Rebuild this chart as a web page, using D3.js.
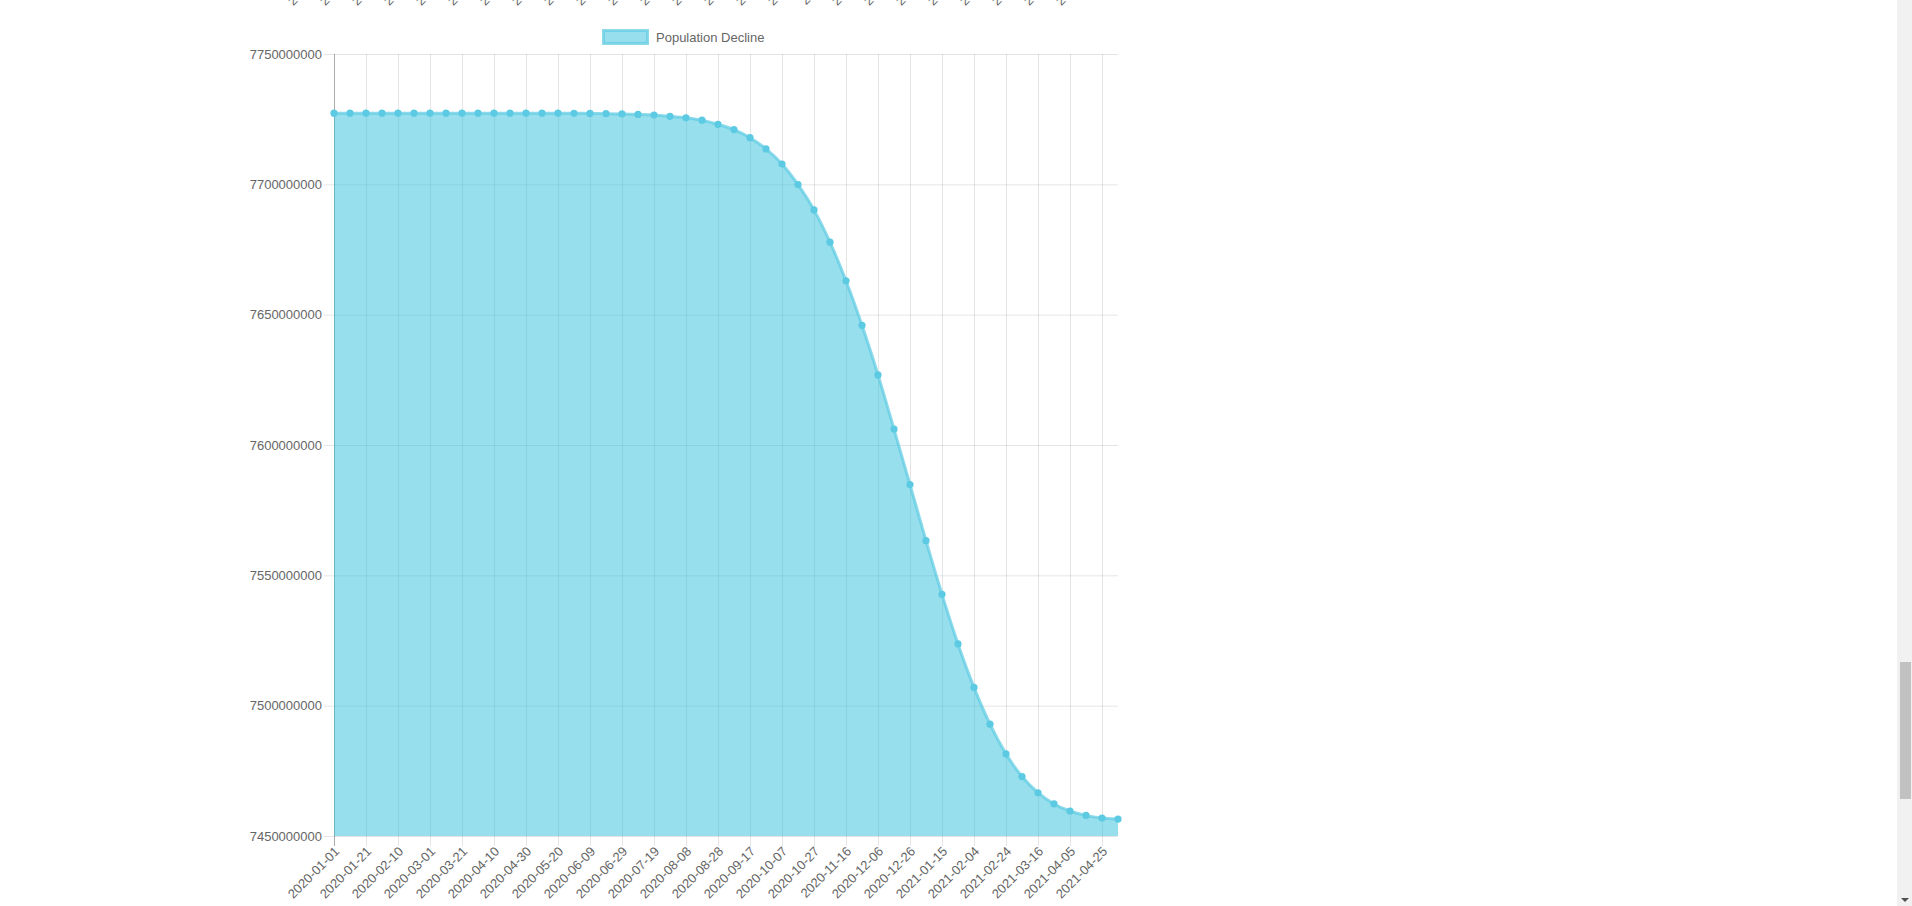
<!DOCTYPE html>
<html>
<head>
<meta charset="utf-8">
<script src="https://cdn.jsdelivr.net/npm/d3@7"></script>
<style>
  html, body { margin: 0; padding: 0; background: #fff; overflow: hidden; }
  #PopPlot { position: absolute; left: 0; top: 0; width: 1897px; height: 906px; }
  #track { position: absolute; left: 1897px; top: 0; width: 15px; height: 906px; background: #f1f1f1; }
  #thumb { position: absolute; left: 1900px; top: 662px; width: 11px; height: 137px; background: #c1c1c1; }
  #arrow { position: absolute; left: 1901px; top: 898px; width: 0; height: 0;
           border-left: 4px solid transparent; border-right: 4px solid transparent; border-top: 4px solid #505050; }
  text { font-family: "Liberation Sans", Arial, Helvetica, sans-serif; }
</style>
</head>
<body>
<div id="PopPlot"></div>
<div id="track"></div><div id="thumb"></div><div id="arrow"></div>
<script>
// categories: one point every 10 days
var dates = [
  "2020-01-01","2020-01-11","2020-01-21","2020-01-31","2020-02-10","2020-02-20","2020-03-01","2020-03-11",
  "2020-03-21","2020-03-31","2020-04-10","2020-04-20","2020-04-30","2020-05-10","2020-05-20","2020-05-30",
  "2020-06-09","2020-06-19","2020-06-29","2020-07-09","2020-07-19","2020-07-29","2020-08-08","2020-08-18",
  "2020-08-28","2020-09-07","2020-09-17","2020-09-27","2020-10-07","2020-10-17","2020-10-27","2020-11-06",
  "2020-11-16","2020-11-26","2020-12-06","2020-12-16","2020-12-26","2021-01-05","2021-01-15","2021-01-25",
  "2021-02-04","2021-02-14","2021-02-24","2021-03-06","2021-03-16","2021-03-26","2021-04-05","2021-04-15",
  "2021-04-25","2021-05-05"
];

var population = [
  7727300000, 7727300000, 7727300000, 7727300000, 7727300000, 7727300000, 7727300000, 7727300000,
  7727300000, 7727300000, 7727300000, 7727300000, 7727300000, 7727300000, 7727300000, 7727250000,
  7727200000, 7727100000, 7727000000, 7726800000, 7726600000, 7726100000, 7725500000, 7724600000,
  7723000000, 7721000000, 7717900000, 7713600000, 7707800000, 7699900000, 7690200000, 7677800000,
  7663000000, 7645900000, 7626900000, 7606100000, 7584800000, 7563300000, 7542700000, 7523700000,
  7507000000, 7492900000, 7481500000, 7472800000, 7466600000, 7462300000, 7459600000, 7457900000,
  7456900000, 7456500000
];

var yTicks = [7450000000, 7500000000, 7550000000, 7600000000, 7650000000, 7700000000, 7750000000];

var seriesName = "Population Decline";

PopPlot();

function PopPlot() {

var margin = {top: 54, left: 334},
    width = 784,
    height = 782;

var lineColor = "rgb(92,202,226)",
    fillColor = "rgba(47,191,217,0.5)",
    gridColor = "rgba(0,0,0,0.1)",
    textColor = "#666";

var svg = d3.select("#PopPlot").append("svg").attr("width", 1897).attr("height", 906);

var x = d3.scalePoint().domain(dates).range([0, width]),
    y = d3.scaleLinear().domain([yTicks[0], yTicks[yTicks.length - 1]]).range([height, 0]);

// only every second date gets a label / gridline
var shown = dates.filter(function(d, i) { return i % 2 === 0; });

var focus = svg.append("g")
    .attr("transform", "translate(" + margin.left + "," + margin.top + ")");

// horizontal grid + y labels
var yAxis = focus.append("g")
    .attr("transform", "translate(-10,0)")
    .call(d3.axisLeft(y).tickValues(yTicks).tickFormat(d3.format("d"))
      .tickSizeInner(-(width + 10)).tickSizeOuter(0).tickPadding(2));
yAxis.select(".domain").remove();
yAxis.selectAll("line").attr("stroke", gridColor);
yAxis.selectAll("text").attr("fill", textColor).style("font-size", "13px")
    .style("font-family", "'Liberation Sans', Arial, sans-serif");

// vertical grid
var xAxis = focus.append("g")
    .attr("transform", "translate(0," + (height + 10) + ")")
    .call(d3.axisBottom(x).tickValues(shown).tickSizeInner(height + 10).tickSizeOuter(0).tickFormat(""));
xAxis.select(".domain").remove();
xAxis.selectAll("line").attr("y2", -(height + 10)).attr("stroke", gridColor);

// left border
focus.append("line")
    .attr("x1", 0.5).attr("x2", 0.5).attr("y1", 0).attr("y2", height + 10)
    .attr("stroke", "rgba(0,0,0,0.25)");

var area = d3.area()
    .curve(d3.curveMonotoneX)
    .x(function(d, i) { return x(dates[i]); })
    .y0(height)
    .y1(function(d) { return y(d); });

var curve = d3.line()
    .curve(d3.curveMonotoneX)
    .x(function(d, i) { return x(dates[i]); })
    .y(function(d) { return y(d); });

focus.append("path")
    .datum(population)
    .attr("fill", fillColor)
    .attr("d", area);

focus.append("path")
    .datum(population)
    .attr("fill", "none")
    .attr("stroke", lineColor)
    .attr("stroke-width", 3)
    .attr("opacity", 0.7)
    .attr("d", curve);

focus.selectAll(".pt")
    .data(population)
  .enter().append("circle")
    .attr("class", "pt")
    .attr("cx", function(d, i) { return x(dates[i]); })
    .attr("cy", function(d) { return y(d); })
    .attr("r", 3.6)
    .attr("fill", lineColor);

// rotated date labels (this chart, and the chart above whose labels peek in)
[height + 13, height + 13 - 893].forEach(function(ly) {
  focus.append("g").selectAll("text")
      .data(shown)
    .enter().append("text")
      .attr("transform", function(d) { return "translate(" + (x(d) + 3) + "," + ly + ") rotate(-45)"; })
      .attr("text-anchor", "end")
      .attr("dy", "0.35em")
      .attr("fill", textColor)
      .style("font-size", "13px")
      .text(function(d) { return d; });
});

// legend
var legend = svg.append("g");
legend.append("rect")
    .attr("x", 603.5).attr("y", 30.5).attr("width", 44).attr("height", 13)
    .attr("fill", fillColor).attr("stroke", lineColor).attr("stroke-opacity", 0.7).attr("stroke-width", 3);
legend.append("text")
    .attr("x", 656).attr("y", 37).attr("dy", "0.35em")
    .attr("fill", textColor).style("font-size", "13px")
    .text(seriesName);

}
</script>
</body>
</html>
